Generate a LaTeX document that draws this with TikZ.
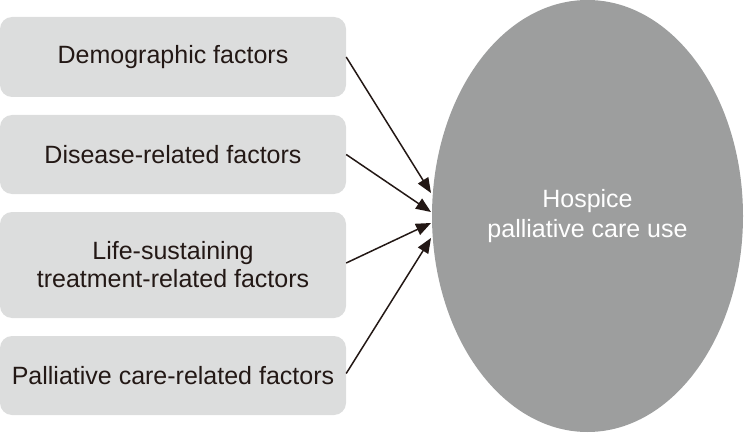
\documentclass[tikz,border=0pt]{standalone}
\usepackage{fontspec}
\setmainfont{Liberation Sans}
\usetikzlibrary{arrows.meta,shapes.geometric}
\definecolor{boxgray}{HTML}{DCDDDD}
\definecolor{ellgray}{HTML}{9D9E9E}
\definecolor{txt}{HTML}{231815}
\begin{document}
\begin{tikzpicture}[x=1pt,y=-1pt,
  factor/.style={rectangle,rounded corners=12pt,fill=boxgray,text=txt,
    minimum width=346pt,inner sep=0pt,align=center,
    font=\fontsize{25pt}{28pt}\selectfont},
  outcome/.style={ellipse,fill=ellgray,text=white,minimum width=311pt,
    minimum height=432pt,inner sep=0pt,align=center,
    font=\fontsize{25pt}{30pt}\selectfont},
  link/.style={draw=txt,line width=1.5pt,-{Triangle[length=15pt,width=12pt]}}]
\useasboundingbox (0,0) rectangle (744,433);
\node[factor,minimum height=80pt] (b1) at (173,57) {Demographic factors};
\node[factor,minimum height=79pt] (b2) at (173,154.5) {Disease-related factors};
\node[factor,minimum height=106pt] (b3) at (173,265) {Life-sustaining\\treatment-related factors};
\node[factor,minimum height=79pt] (b4) at (173,375.5) {Palliative care-related factors};
\node[outcome] (e) at (587.5,216) {Hospice\\palliative care use};
\coordinate (t1) at (431,193);
\coordinate (t2) at (431,212);
\coordinate (t3) at (431,223);
\coordinate (t4) at (431,238);
\draw[link] (b1.east) -- (t1);
\draw[link] (b2.east) -- (t2);
\draw[link] (b3.east) ++(0,-2) -- (t3);
\draw[link] (b4.east) ++(0,-2) -- (t4);
\end{tikzpicture}
\end{document}
